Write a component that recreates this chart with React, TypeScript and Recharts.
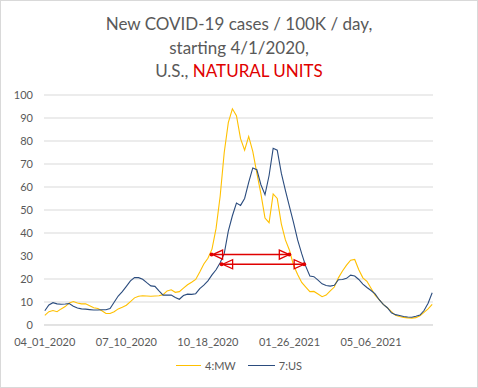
import React from "react";
import {
  LineChart, Line, XAxis, YAxis, CartesianGrid, ReferenceLine,
} from "recharts";

// day offsets from 4/1/2020, one reading every 5 days
const days = [
  0, 5, 10, 15, 20, 25, 30, 35, 40, 45, 50, 55, 60, 65, 70, 75, 80, 85, 90, 95,
  100, 105, 110, 115, 120, 125, 130, 135, 140, 145, 150, 155, 160, 165, 170, 175, 180, 185, 190, 195,
  200, 205, 210, 215, 220, 225, 230, 235, 240, 245, 250, 255, 260, 265, 270, 275, 280, 285, 290, 295,
  300, 305, 310, 315, 320, 325, 330, 335, 340, 345, 350, 355, 360, 365, 370, 375, 380, 385, 390, 395,
  400, 405, 410, 415, 420, 425, 430, 435, 440, 445, 450, 455, 460, 465, 470, 475,
];

const mw = [
  4.2, 5.8, 6.3, 5.8, 7.0, 8.0, 9.6, 10.2, 9.6, 9.2,
  9.2, 8.4, 7.5, 7.2, 6.2, 5.0, 5.0, 5.8, 7.0, 7.7,
  8.6, 10.2, 11.8, 12.5, 12.7, 12.6, 12.5, 12.6, 12.7, 13.2,
  14.8, 15.3, 14.2, 14.5, 16.0, 17.5, 18.6, 19.8, 23.0, 26.5,
  29.0, 33.0, 42.0, 56.0, 75.0, 88.0, 94.0, 91.0, 81.0, 76.0,
  82.0, 75.5, 66.0, 57.0, 46.5, 44.5, 57.0, 55.0, 44.0, 37.0,
  32.5, 26.0, 22.0, 18.5, 16.5, 14.5, 14.6, 13.5, 12.3, 13.0,
  14.8, 16.5, 20.5, 23.5, 26.0, 28.2, 28.5, 24.0, 20.5, 19.0,
  16.0, 13.0, 11.0, 9.0, 7.5, 5.8, 4.2, 3.7, 3.3, 3.1,
  3.0, 3.2, 4.0, 5.5, 7.0, 9.0,
];

const us = [
  6.2, 8.7, 9.7, 9.2, 9.0, 9.1, 9.3, 8.2, 7.4, 7.0,
  6.9, 6.7, 6.5, 6.5, 6.6, 6.6, 7.2, 9.9, 12.6, 14.5,
  16.8, 19.2, 20.6, 20.6, 19.9, 18.4, 17.0, 16.8, 14.8, 13.0,
  13.0, 13.0, 12.0, 11.2, 12.8, 13.4, 13.3, 13.6, 15.8, 17.3,
  19.2, 21.8, 24.0, 27.1, 31.0, 40.8, 47.5, 53.0, 52.0, 55.0,
  62.0, 68.3, 67.5, 61.0, 56.7, 65.0, 76.8, 76.0, 66.0, 58.5,
  51.5, 44.5, 37.0, 31.0, 25.5, 21.3, 21.0, 19.5, 17.9, 17.2,
  16.9, 17.3, 19.7, 19.8, 20.3, 21.7, 21.3, 19.8, 17.8, 16.3,
  15.0, 13.5, 11.0, 9.0, 7.5, 5.3, 4.5, 4.1, 3.7, 3.5,
  3.4, 3.8, 4.3, 6.3, 9.5, 14.0,
];

const tickDays = [0, 100, 200, 300, 400];
const tickLabels = ["04_01_2020", "07_10_2020", "10_18_2020", "01_26_2021", "05_06_2021"];
const yTicks = [0, 10, 20, 30, 40, 50, 60, 70, 80, 90, 100];

// the two red double arrows: start day, end day, level
const arrowStart = [204.5, 216.8];
const arrowEnd = [299.8, 318];
const arrowLevel = [30.6, 26.4];

const data = days.map((day, i) => ({ day, mw: mw[i], us: us[i] }));

const RED = "#E00000";
const FONT = "Lato, 'Open Sans', sans-serif";

const Arrow = (props: any) => {
  const { x1, y1, x2, y2 } = props;
  const y = (y1 + y2) / 2;
  const len = 10, half = 4.5;
  return (
    <g>
      <line x1={x1} y1={y} x2={x2} y2={y} stroke={RED} strokeWidth={1.5} />
      <polygon
        points={`${x1 + 1},${y} ${x1 + 1 + len},${y - half} ${x1 + 1 + len},${y + half}`}
        fill="none" stroke={RED} strokeWidth={1.3}
      />
      <polygon
        points={`${x2},${y} ${x2 - len},${y - half} ${x2 - len},${y + half}`}
        fill="none" stroke={RED} strokeWidth={1.3}
      />
      <circle cx={x1} cy={y} r={2} fill={RED} />
      <circle cx={x2} cy={y} r={2} fill={RED} />
    </g>
  );
};

export default function App() {
  return (
    <div
      style={{
        position: "absolute", left: 0, top: 0, width: 478, height: 388,
        boxSizing: "border-box", border: "1px solid #D9D9D9", background: "#fff",
        fontFamily: FONT,
      }}
    >
      <div
        style={{
          position: "absolute", left: 0, top: 11, width: 476, textAlign: "center",
          color: "#595959", fontSize: 17, lineHeight: "23.5px",
        }}
      >
        <div>New COVID-19 cases / 100K / day,</div>
        <div>starting 4/1/2020,</div>
        <div>
          U.S., <span style={{ color: RED }}>NATURAL UNITS</span>
        </div>
      </div>
      <div style={{ position: "absolute", left: -1, top: -1 }}>
        <LineChart width={478} height={388} data={data}
          margin={{ top: 95, right: 45, bottom: 0, left: 0 }}>
          <CartesianGrid horizontal vertical={false} stroke="#D9D9D9" />
          <XAxis
            dataKey="day" type="number" domain={[-1, 476]} ticks={tickDays}
            tickFormatter={(v: number) => tickLabels[tickDays.indexOf(v)] ?? ""}
            tickLine={false} axisLine={{ stroke: "#D9D9D9" }}
            tick={{ fill: "#595959", fontSize: 11, fontFamily: FONT }}
            tickMargin={7} height={63} interval={0}
          />
          <YAxis
            domain={[0, 100]} ticks={yTicks} width={44}
            tickLine={false} axisLine={false} tickMargin={5}
            tick={{ fill: "#595959", fontSize: 11, fontFamily: FONT }}
          />
          <Line type="linear" dataKey="mw" stroke="#FFC000" strokeWidth={1.1}
            dot={false} isAnimationActive={false} />
          <Line type="linear" dataKey="us" stroke="#2B4C7E" strokeWidth={1.1}
            dot={false} isAnimationActive={false} />
          {arrowLevel.map((lvl, i) => (
            <ReferenceLine key={i}
              segment={[{ x: arrowStart[i], y: lvl }, { x: arrowEnd[i], y: lvl }]}
              shape={Arrow} />
          ))}
        </LineChart>
      </div>
      <div
        style={{
          position: "absolute", left: 0, top: 358, width: 476, display: "flex",
          justifyContent: "center", alignItems: "center", color: "#595959", fontSize: 11,
        }}
      >
        <span style={{ display: "inline-block", width: 25, height: 0, borderTop: "1.5px solid #FFC000", marginRight: 4 }} />
        <span style={{ marginRight: 12 }}>4:MW</span>
        <span style={{ display: "inline-block", width: 27, height: 0, borderTop: "1.5px solid #2B4C7E", marginRight: 4 }} />
        <span>7:US</span>
      </div>
    </div>
  );
}
